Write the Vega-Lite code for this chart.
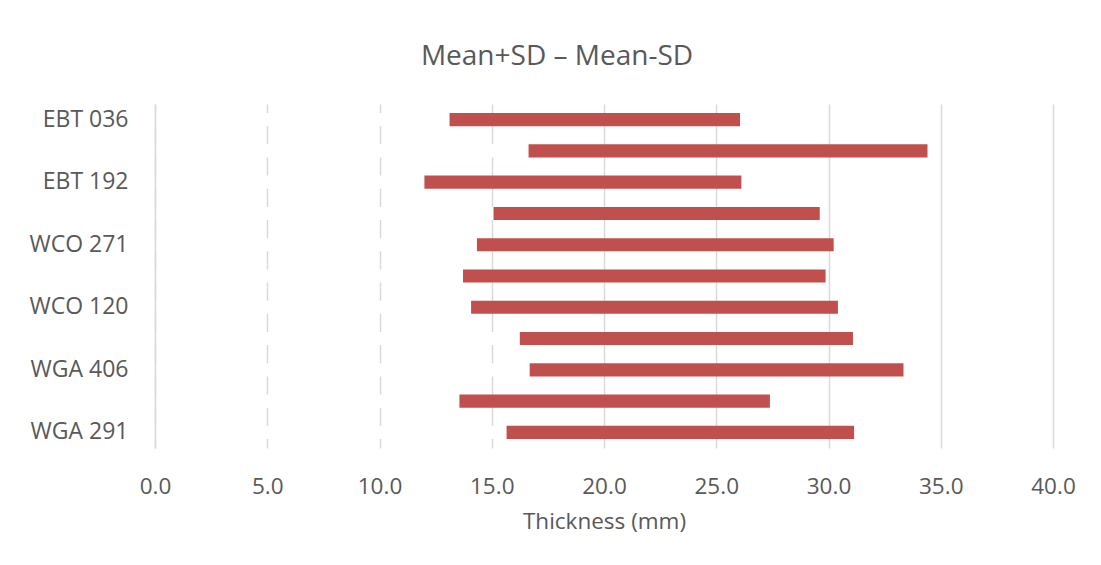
{
  "$schema": "https://vega.github.io/schema/vega-lite/v6.json",
  "width": 898,
  "height": 344,
  "autosize": {"type": "none"},
  "padding": {"left": 155, "top": 104, "right": 48, "bottom": 117},
  "background": "white",
  "title": {
    "text": "Mean+SD – Mean-SD",
    "font": "Open Sans",
    "fontSize": 28,
    "fontWeight": "normal",
    "color": "#595959",
    "anchor": "middle",
    "frame": "group",
    "dx": -47,
    "offset": 11,
    "baseline": "alphabetic"
  },
  "data": {
    "values": [
      {"sample": "EBT 036", "low": 13.12, "high": 26.06},
      {"sample": "unlabelled 1", "low": 16.64, "high": 34.41},
      {"sample": "EBT 192", "low": 12.0, "high": 26.12},
      {"sample": "unlabelled 2", "low": 15.08, "high": 29.61},
      {"sample": "WCO 271", "low": 14.34, "high": 30.23},
      {"sample": "unlabelled 3", "low": 13.72, "high": 29.87},
      {"sample": "WCO 120", "low": 14.08, "high": 30.42},
      {"sample": "unlabelled 4", "low": 16.25, "high": 31.09},
      {"sample": "WGA 406", "low": 16.69, "high": 33.34},
      {"sample": "unlabelled 5", "low": 13.56, "high": 27.39},
      {"sample": "WGA 291", "low": 15.66, "high": 31.14}
    ]
  },
  "encoding": {
    "y": {
      "field": "sample",
      "type": "nominal",
      "sort": null,
      "scale": {"paddingInner": 0.58, "paddingOuter": 0.29},
      "axis": {
        "title": null,
        "values": ["EBT 036", "EBT 192", "WCO 271", "WCO 120", "WGA 406", "WGA 291"],
        "ticks": false,
        "tickSize": 0,
        "labelPadding": 27,
        "labelFontSize": 23,
        "domain": true,
        "domainColor": "#d9d9d9",
        "domainWidth": 1.5,
        "grid": false,
        "zindex": 1
      }
    }
  },
  "layer": [
    {
      "mark": {"type": "bar", "color": "white"},
      "encoding": {
        "x": {
          "field": "low",
          "type": "quantitative",
          "stack": null,
          "scale": {"domain": [0, 40], "nice": false},
          "title": "Thickness (mm)",
          "axis": {
            "values": [0, 5, 10, 15, 20, 25, 30, 35, 40],
            "format": ".1f",
            "grid": true,
            "gridColor": "#d9d9d9",
            "gridWidth": 1.5,
            "domain": false,
            "ticks": false,
            "tickSize": 0,
            "labelPadding": 27,
            "titlePadding": 13,
            "labelFlush": false
          }
        }
      }
    },
    {
      "mark": {"type": "bar", "color": "#C0504D"},
      "encoding": {
        "x": {
          "field": "low",
          "type": "quantitative",
          "title": "Thickness (mm)",
          "axis": {
            "values": [0, 5, 10, 15, 20, 25, 30, 35, 40],
            "format": ".1f",
            "grid": true,
            "gridColor": "#d9d9d9",
            "gridWidth": 1.5,
            "domain": false,
            "ticks": false,
            "tickSize": 0,
            "labelPadding": 27,
            "titlePadding": 13,
            "labelFlush": false
          }
        },
        "x2": {"field": "high"}
      }
    }
  ],
  "config": {
    "view": {"stroke": null},
    "axis": {
      "labelFont": "Open Sans",
      "labelFontSize": 22.5,
      "labelColor": "#595959",
      "titleFont": "Open Sans",
      "titleFontSize": 22.5,
      "titleFontWeight": "normal",
      "titleColor": "#595959"
    }
  }
}
